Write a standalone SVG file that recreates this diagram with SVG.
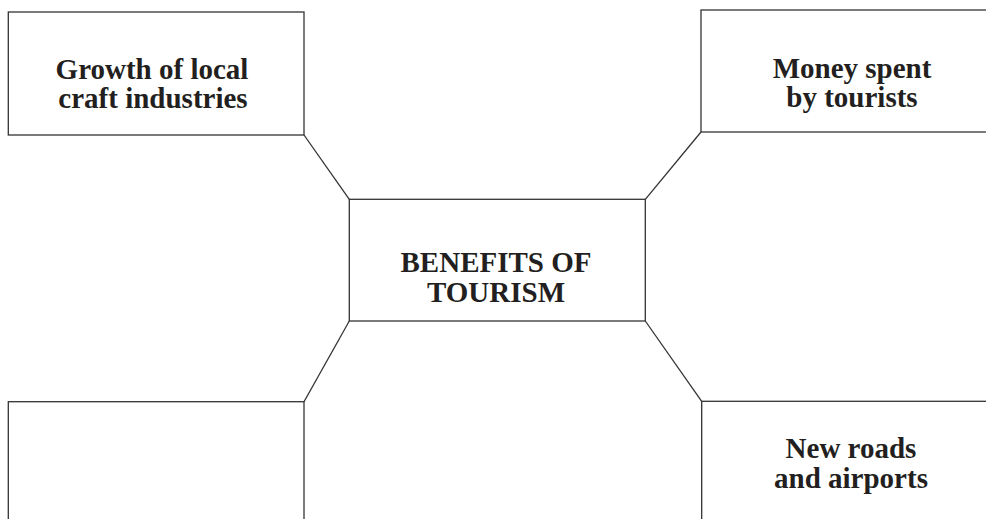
<svg xmlns="http://www.w3.org/2000/svg" width="986" height="519" viewBox="0 0 986 519">
<style>
.box{fill:#fff;stroke:#333;stroke-width:1.3}
.ln{stroke:#333;stroke-width:1.3;fill:none}
text{font-family:"Liberation Serif","Times New Roman",serif;font-weight:bold;font-size:29px;fill:#231f20;text-anchor:middle}
</style>
<rect width="986" height="519" fill="#fff"/>
<g id="connectors">
<line class="ln" x1="304" y1="135" x2="349.3" y2="199.3"/>
<line class="ln" x1="701" y1="132" x2="645.3" y2="199.3"/>
<line class="ln" x1="349.3" y1="321" x2="304" y2="401.7"/>
<line class="ln" x1="645.3" y1="321" x2="701.7" y2="401.3"/>
</g>
<g id="node-growth">
<rect class="box" x="8.3" y="12" width="295.7" height="123"/>
<text x="152" y="78.9"><tspan x="152">Growth of local</tspan><tspan x="153" dy="29.5">craft industries</tspan></text>
</g>
<g id="node-money">
<rect class="box" x="701" y="10" width="300" height="122"/>
<text x="852" y="77.5"><tspan x="852">Money spent</tspan><tspan x="852" dy="29.5">by tourists</tspan></text>
</g>
<g id="node-center">
<rect class="box" x="349.3" y="199.3" width="296" height="121.7"/>
<text x="496" y="272.3"><tspan x="496">BENEFITS OF</tspan><tspan x="496" dy="29.5">TOURISM</tspan></text>
</g>
<g id="node-blank">
<rect class="box" x="8.3" y="401.7" width="295.7" height="130"/>
</g>
<g id="node-roads">
<rect class="box" x="701.7" y="401.3" width="300" height="130"/>
<text x="851" y="458.2"><tspan x="851">New roads</tspan><tspan x="851" dy="29.5">and airports</tspan></text>
</g>
</svg>
